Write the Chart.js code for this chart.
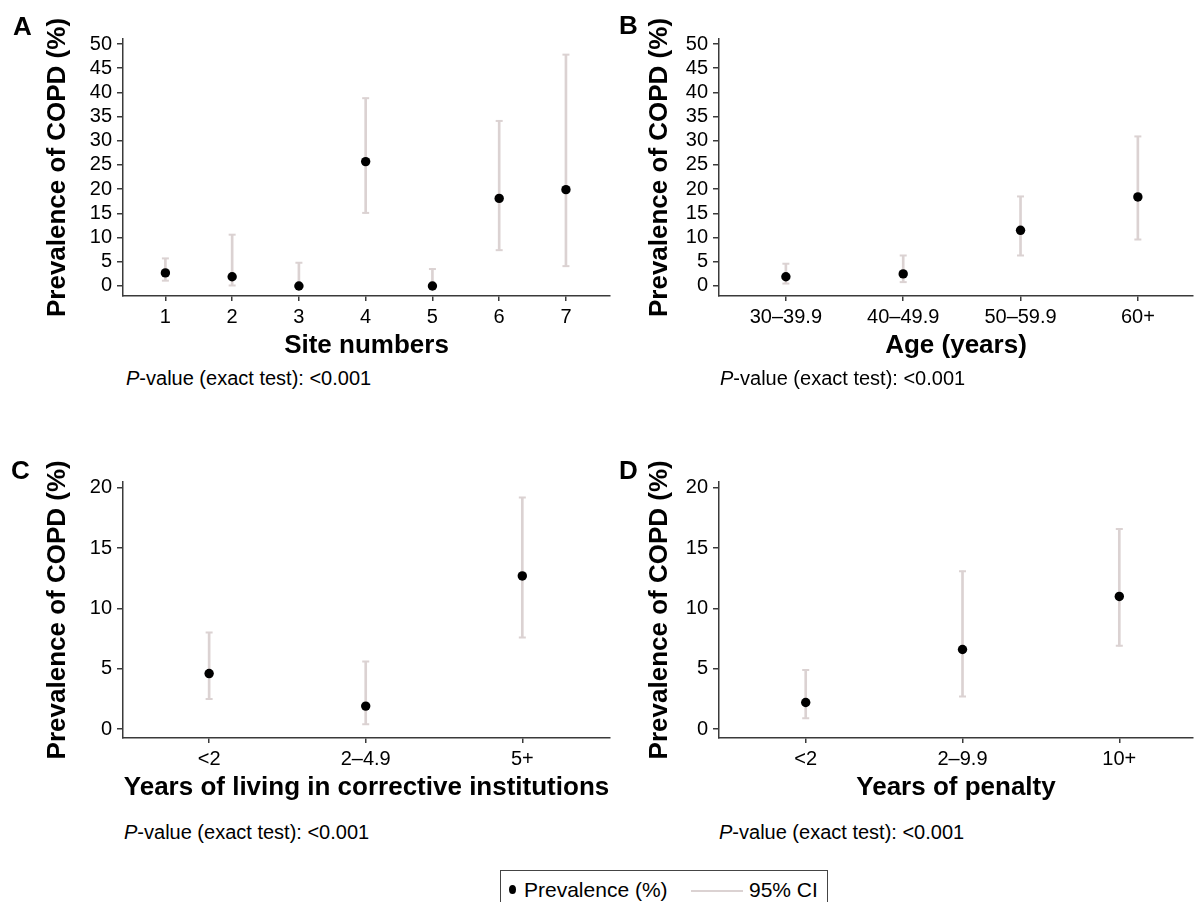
<!DOCTYPE html>
<html>
<head>
<meta charset="utf-8">
<script src="https://cdn.jsdelivr.net/npm/chart.js@4.4.1/dist/chart.umd.min.js"></script>
<style>
  html, body { margin: 0; padding: 0; background: #fff; }
  body { width: 1199px; height: 902px; overflow: hidden; position: relative;
         font-family: "Liberation Sans", Arial, sans-serif; color: #000; }
  canvas { position: absolute; }
  .letter { position: absolute; font-weight: bold; font-size: 26px; line-height: 26px; }
  .pv { position: absolute; font-size: 20px; line-height: 20px; white-space: nowrap; }
  #legend { position: absolute; left: 500px; top: 870px; width: 328px; height: 60px;
            border: 1.5px solid #444; box-sizing: border-box; }
  #legend span { position: absolute; font-size: 21px; line-height: 21px; white-space: nowrap; }
  #legend .dot { position: absolute; width: 7px; height: 9px; border-radius: 50%; background: #000; }
  #legend .ln { position: absolute; height: 2px; background: #dbd2d2; }
</style>
</head>
<body>
<canvas id="cA" width="616" height="366" style="left:0px;top:0px;"></canvas>
<canvas id="cB" width="599" height="366" style="left:600px;top:0px;"></canvas>
<canvas id="cC" width="616" height="368" style="left:0px;top:440px;"></canvas>
<canvas id="cD" width="599" height="368" style="left:600px;top:440px;"></canvas>

<div class="letter" style="left:13px;top:13px;">A</div>
<div class="letter" style="left:619px;top:12px;">B</div>
<div class="letter" style="left:11px;top:457px;">C</div>
<div class="letter" style="left:619px;top:457px;">D</div>

<div class="pv" style="left:126px;top:368px;"><i>P</i>-value (exact test): &lt;0.001</div>
<div class="pv" style="left:720px;top:368px;"><i>P</i>-value (exact test): &lt;0.001</div>
<div class="pv" style="left:124px;top:822px;"><i>P</i>-value (exact test): &lt;0.001</div>
<div class="pv" style="left:719px;top:822px;"><i>P</i>-value (exact test): &lt;0.001</div>

<div id="legend">
  <div class="dot" style="left:8px;top:14px;"></div>
  <span style="left:23px;top:8px;">Prevalence (%)</span>
  <div class="ln" style="left:190px;top:19px;width:52px;"></div>
  <span style="left:248px;top:8px;">95% CI</span>
</div>

<script>
// ---------- data ----------
const yTitle = 'Prevalence of COPD (%)';
const ticks0to50 = [0, 5, 10, 15, 20, 25, 30, 35, 40, 45, 50];
const ticks0to20 = [0, 5, 10, 15, 20];

const siteLabels = ['1', '2', '3', '4', '5', '6', '7'];
const sitePrev   = [2.7, 1.9, 0, 25.7, 0, 18.1, 19.9];
const siteLow    = [1.1, 0.1, 0, 15.1, 0, 7.4, 4.1];
const siteHigh   = [5.7, 10.6, 4.8, 38.8, 3.5, 34.1, 47.8];

const ageLabels  = ['30–39.9', '40–49.9', '50–59.9', '60+'];
const agePrev    = [1.9, 2.5, 11.5, 18.4];
const ageLow     = [0.5, 0.8, 6.3, 9.6];
const ageHigh    = [4.6, 6.3, 18.5, 30.9];

const instLabels = ['<2', '2–4.9', '5+'];
const instPrev   = [4.6, 1.9, 12.7];
const instLow    = [2.5, 0.4, 7.6];
const instHigh   = [8.0, 5.6, 19.2];

const penLabels  = ['<2', '2–9.9', '10+'];
const penPrev    = [2.2, 6.6, 11.0];
const penLow     = [0.9, 2.7, 6.9];
const penHigh    = [4.9, 13.1, 16.6];

// ---------- styling ----------
const FONT = '"Liberation Sans", Arial, sans-serif';
const CI_COLOR = '#dbd2d2';
const AXIS_COLOR = '#3a3a3a';

function makePanel(id, p) {
  const xs = p.labels.map((_, i) => i + 1);
  new Chart(document.getElementById(id), {
    type: 'scatter',
    data: {
      datasets: [
        { type: 'bar', label: '95% CI',
          data: xs.map((x, i) => ({ x: x, y: [p.low[i], p.high[i]] })),
          backgroundColor: CI_COLOR, borderWidth: 0, barThickness: 2, order: 3 },
        { type: 'scatter', label: 'lower',
          data: xs.map((x, i) => ({ x: x, y: p.low[i] })),
          showLine: false, pointStyle: 'line', pointRadius: 3.5, pointBorderWidth: 2,
          pointBorderColor: CI_COLOR, order: 2 },
        { type: 'scatter', label: 'upper',
          data: xs.map((x, i) => ({ x: x, y: p.high[i] })),
          showLine: false, pointStyle: 'line', pointRadius: 3.5, pointBorderWidth: 2,
          pointBorderColor: CI_COLOR, order: 2 },
        { type: 'scatter', label: 'Prevalence (%)',
          data: xs.map((x, i) => ({ x: x, y: p.prev[i] })),
          showLine: false, pointStyle: 'circle', pointRadius: 4.7, pointBorderWidth: 0,
          pointBackgroundColor: '#000', pointBorderColor: '#000', order: 0 }
      ]
    },
    options: {
      responsive: false, maintainAspectRatio: false, animation: false, events: [],
      layout: { padding: { top: p.padTop, left: 0, right: 0, bottom: 0 } },
      plugins: { legend: { display: false }, tooltip: { enabled: false } },
      scales: {
        x: {
          type: 'linear', min: p.xMin, max: p.xMax, offset: false, bounds: 'data',
          afterBuildTicks: s => { s.ticks = xs.map(v => ({ value: v })); },
          afterFit: s => { s.height = 70; },
          ticks: { callback: v => p.labels[Math.round(v) - 1], font: { family: FONT, size: 20 },
                   color: '#000', padding: 4, maxRotation: 0, autoSkip: false },
          grid: { display: true, drawOnChartArea: false, drawTicks: true, tickLength: 5,
                  color: AXIS_COLOR, lineWidth: 1.5, offset: false },
          border: { display: true, color: AXIS_COLOR, width: 1.5 },
          title: { display: true, text: p.xTitle, color: '#000',
                   font: { family: FONT, size: 26, weight: 'bold' }, padding: { top: 0, bottom: 4.5 } }
        },
        y: {
          type: 'linear', min: p.yMin, max: p.yMax, bounds: 'data',
          afterBuildTicks: s => { s.ticks = p.yTicks.map(v => ({ value: v })); },
          afterFit: s => { s.width = p.yAxisWidth; },
          ticks: { font: { family: FONT, size: 20 }, color: '#000', padding: 5, autoSkip: false },
          grid: { display: true, drawOnChartArea: false, drawTicks: true, tickLength: 6,
                  color: AXIS_COLOR, lineWidth: 1.5 },
          border: { display: true, color: AXIS_COLOR, width: 1.5 },
          title: { display: true, text: yTitle, color: '#000',
                   font: { family: FONT, size: 26, weight: 'bold' }, padding: { top: p.yTitlePad, bottom: 0 } }
        }
      }
    }
  });
}

makePanel('cA', { labels: siteLabels, prev: sitePrev, low: siteLow, high: siteHigh,
  xTitle: 'Site numbers', xMin: 0.365, xMax: 7.66, yMin: -2.07, yMax: 51.03, yTicks: ticks0to50,
  yAxisWidth: 123, yTitlePad: 42, padTop: 39 });
makePanel('cB', { labels: ageLabels, prev: agePrev, low: ageLow, high: ageHigh,
  xTitle: 'Age (years)', xMin: 0.43, xMax: 4.47, yMin: -2.07, yMax: 51.03, yTicks: ticks0to50,
  yAxisWidth: 119, yTitlePad: 44, padTop: 39 });
makePanel('cC', { labels: instLabels, prev: instPrev, low: instLow, high: instHigh,
  xTitle: 'Years of living in corrective institutions', xMin: 0.45, xMax: 3.56,
  yMin: -0.746, yMax: 20.52, yTicks: ticks0to20, yAxisWidth: 123, yTitlePad: 42, padTop: 41.7 });
makePanel('cD', { labels: penLabels, prev: penPrev, low: penLow, high: penHigh,
  xTitle: 'Years of penalty', xMin: 0.447, xMax: 3.47,
  yMin: -0.746, yMax: 20.52, yTicks: ticks0to20, yAxisWidth: 119, yTitlePad: 44, padTop: 41.7 });
</script>
</body>
</html>
